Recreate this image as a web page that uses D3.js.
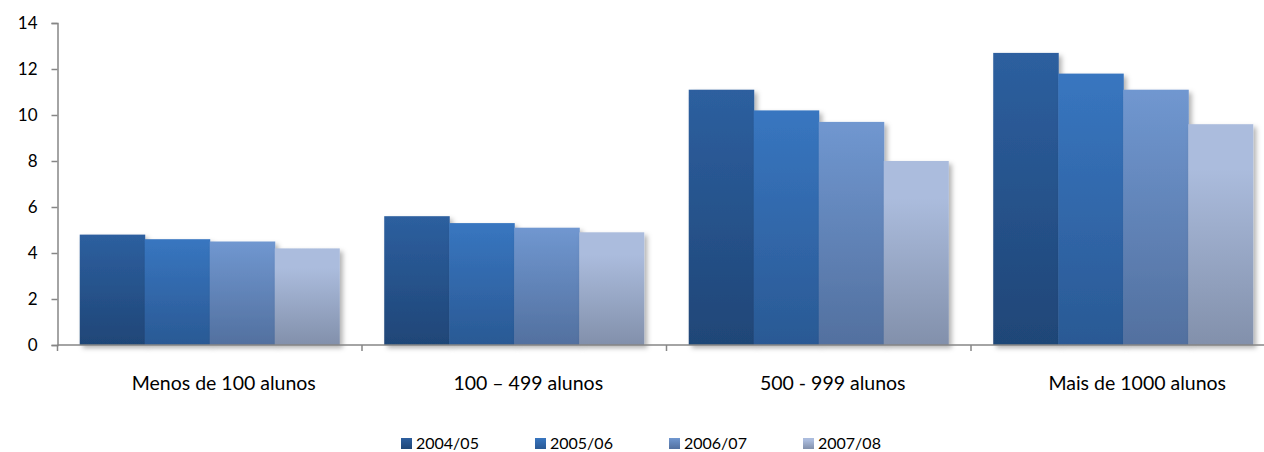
<!DOCTYPE html>
<html><head><meta charset="utf-8">
<script src="https://cdn.jsdelivr.net/npm/d3@7"></script>
<style>body{margin:0;background:#fff;} svg{display:block;}</style>
</head><body>
<svg id="c" width="1264" height="452"></svg>
<script>
const categories = ["Menos de 100 alunos", "100 – 499 alunos", "500 - 999 alunos", "Mais de 1000 alunos"];
const seriesNames = ["2004/05", "2005/06", "2006/07", "2007/08"];
const s2004 = [4.8, 5.6, 11.1, 12.7];
const s2005 = [4.6, 5.3, 10.2, 11.8];
const s2006 = [4.5, 5.1, 9.7, 11.1];
const s2007 = [4.2, 4.9, 8.0, 9.6];
const yTicks = [0, 2, 4, 6, 8, 10, 12, 14];
const series = [s2004, s2005, s2006, s2007];
const topColors = ["#2d5f9f", "#3876c0", "#7097d0", "#abbcdd"];
const botColors = ["#1f4677", "#2a5994", "#52709f", "#8290ab"];
const font = "Lato, 'Open Sans', sans-serif";

const svg = d3.select("#c");
const x0 = 57.5, bandW = 304.5, yTop = 23, yBot = 345;
const x = d3.scaleBand().domain(categories).range([x0, x0 + bandW * 4]).paddingInner(0.146).paddingOuter(0.073);
const xs = d3.scaleBand().domain(d3.range(4)).range([0, x.bandwidth()]);
const y = d3.scaleLinear().domain([0, 14]).range([yBot, yTop]);

const defs = svg.append("defs");
series.forEach((s, i) => {
  const g = defs.append("linearGradient").attr("id", "g" + i).attr("x1", 0).attr("y1", 0).attr("x2", 0).attr("y2", 1);
  g.append("stop").attr("offset", i === 3 ? "0.2" : "0").attr("stop-color", topColors[i]);
  g.append("stop").attr("offset", "1").attr("stop-color", botColors[i]);
});
const f = defs.append("filter").attr("id", "sh").attr("x", "-10%").attr("y", "-10%").attr("width", "130%").attr("height", "130%");
f.append("feDropShadow").attr("dx", 3).attr("dy", 3).attr("stdDeviation", 2.5).attr("flood-color", "#000").attr("flood-opacity", 0.3);

// bars
const gBars = svg.append("g");
series.forEach((s, i) => {
  gBars.selectAll(".b" + i).data(categories).enter().append("rect")
    .attr("x", (c) => x(c) + xs(i))
    .attr("y", (c, j) => y(s[j]))
    .attr("width", xs.bandwidth() + (i < 3 ? 0.5 : 0))
    .attr("height", (c, j) => y(0) - y(s[j]))
    .attr("fill", "url(#g" + i + ")")
    .attr("filter", "url(#sh)");
});

// y axis
const yAxis = d3.axisLeft(y).tickValues(yTicks).tickSize(6).tickPadding(14);
const ga = svg.append("g").attr("transform", `translate(${x0},0)`).call(yAxis);
ga.select(".domain").attr("stroke", "#868686").attr("stroke-width", 1.5);
ga.selectAll(".tick line").attr("stroke", "#868686").attr("stroke-width", 1.5);
ga.selectAll(".tick text").attr("font-family", font).attr("font-size", 17).attr("fill", "#000");

// x axis
const xg = svg.append("g").attr("transform", `translate(0,${yBot})`);
xg.append("line").attr("x1", x0).attr("x2", 1264).attr("y1", 0).attr("y2", 0).attr("stroke", "#868686").attr("stroke-width", 1.5);
const bounds = [0, 1, 2, 3, 4].map(k => x0 + bandW * k);
xg.selectAll(".xt").data(bounds).enter().append("line")
  .attr("x1", d => d).attr("x2", d => d).attr("y1", 0).attr("y2", 6)
  .attr("stroke", "#868686").attr("stroke-width", 1.5);
xg.selectAll(".xl").data(categories).enter().append("text")
  .attr("x", c => x(c) + x.bandwidth() / 2 + 14)
  .attr("y", 45)
  .attr("text-anchor", "middle")
  .attr("font-family", font).attr("font-size", 19.5).attr("fill", "#000")
  .text(c => c);

// legend
const lg = svg.append("g");
const lx = [401, 535, 669, 803];
seriesNames.forEach((n, i) => {
  lg.append("rect").attr("x", lx[i]).attr("y", 438).attr("width", 11).attr("height", 11).attr("fill", "url(#g" + i + ")");
  lg.append("text").attr("x", lx[i] + 15).attr("y", 449).attr("font-family", font).attr("font-size", 16).attr("fill", "#000").text(n);
});
</script>
</body></html>
